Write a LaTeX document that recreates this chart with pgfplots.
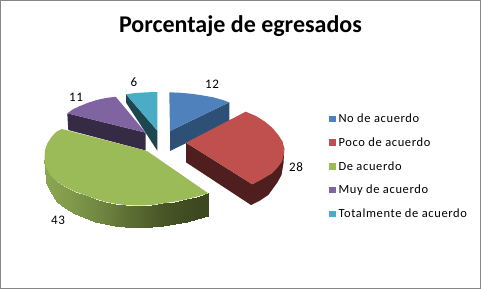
\documentclass[border=0pt]{standalone}
\usepackage{pgfplots}
\pgfplotsset{compat=1.18}
\usepackage{fontspec}
\setmainfont{Carlito}
\newfontfamily\lgfont[LetterSpace=5]{Carlito}
\definecolor{cblue}{HTML}{4F81BD}
\definecolor{cred}{HTML}{C0504D}
\definecolor{cgreen}{HTML}{9BBB59}
\definecolor{cpurple}{HTML}{8064A2}
\definecolor{cteal}{HTML}{4BACC6}
\definecolor{wblue}{HTML}{2F5076}
\definecolor{wred}{HTML}{4F1F1F}
\definecolor{wpurple}{HTML}{352B45}
\definecolor{wteal}{HTML}{1D4650}
\pgfplotstableread{
x y c
44.5 160 0.00
46 167 0.02
46 181.7 0.02
44.8 168 0.00
46 167 0.02
50 175 0.04
50 191 0.04
46 181.7 0.02
50 175 0.04
57 181.5 0.08
57 201.5 0.08
50 191 0.04
57 181.5 0.08
65 186.7 0.12
65 208.3 0.12
57 201.5 0.08
65 186.7 0.12
75 191.5 0.18
75 214 0.18
65 208.3 0.12
75 191.5 0.18
85 195 0.25
85 218.3 0.25
75 214 0.18
85 195 0.25
95 198.6 0.32
95 221.5 0.32
85 218.3 0.25
95 198.6 0.32
105 201.7 0.40
105 224 0.40
95 221.5 0.32
105 201.7 0.40
115 203.7 0.48
115 225.8 0.48
105 224 0.40
115 203.7 0.48
125 205 0.57
125 227 0.57
115 225.8 0.48
125 205 0.57
140 205.5 0.68
140 227.5 0.68
125 227 0.57
140 205.5 0.68
152 205 0.78
152 227.3 0.78
140 227.5 0.68
152 205 0.78
163.3 203.3 0.86
163.3 226 0.86
152 227.3 0.78
163.3 203.3 0.86
175 201.5 0.92
175 224.3 0.92
163.3 226 0.86
175 201.5 0.92
186.7 199.3 0.96
186.7 221.7 0.96
175 224.3 0.92
186.7 199.3 0.96
197 196.5 1.00
197 219 1.00
186.7 221.7 0.96
197 196.5 1.00
208.3 193.3 1.00
207.5 216 1.00
197 219 1.00
}\greenwall
\begin{document}
\begin{tikzpicture}
\begin{axis}[
  scale only axis, width=481pt, height=289pt,
  xmin=0, xmax=481, ymin=0, ymax=289, y dir=reverse,
  hide axis, clip=false,
  colormap={olive}{rgb255(0cm)=(140,168,82); rgb255(1cm)=(61,72,32)},
  point meta min=0, point meta max=1,
  legend style={at={(axis cs:329,113.7)},anchor=north west,draw=none,fill=none,
    font=\fontsize{12.5}{13}\lgfont,row sep=13.55pt,inner xsep=0pt,inner ysep=0pt,
    nodes={inner xsep=2.5pt,inner ysep=0pt}},
  legend cell align=left,
  area legend,
  legend image code/.code={\fill[#1] (0pt,-3.3pt) rectangle (6.8pt,3.3pt);},
  every axis plot/.append style={forget plot},
]
\addlegendimage{fill=cblue,draw=none}\addlegendentry{No de acuerdo}
\addlegendimage{fill=cred,draw=none}\addlegendentry{Poco de acuerdo}
\addlegendimage{fill=cgreen,draw=none}\addlegendentry{De acuerdo}
\addlegendimage{fill=cpurple,draw=none}\addlegendentry{Muy de acuerdo}
\addlegendimage{fill=cteal,draw=none}\addlegendentry{Totalmente de acuerdo}
% frame
\addplot[draw=black!47,line width=1pt,fill=white] coordinates {(0.5,0.5)(480.5,0.5)(480.5,288.5)(0.5,288.5)} -- cycle;
% teal
\addplot[fill=wteal,draw=none] coordinates {(126,94.3)(157.3,130.7)(157.3,150.7)(126,102.5)} -- cycle;
\addplot[fill=cteal,draw=none] coordinates {(126,94.3)(134,93.2)(141.7,92.6)(150,92.2)(157.3,92)(157.3,130.7)} -- cycle;
% purple
\addplot[fill=wpurple,draw=none] coordinates {(67.3,113.3)(145.7,132.7)(145.7,150.5)(68.3,130)} -- cycle;
\addplot[fill=cpurple,draw=none] coordinates {(67.3,113.3)(73,109.3)(80,106)(88,102.8)(96.7,100)(106,98)(115.7,96.7)(145.7,132.7)} -- cycle;
% blue
\addplot[fill=wblue,draw=none] coordinates {(170,131)(229.3,102.3)(229.3,122)(170,151)} -- cycle;
\addplot[fill=cblue,draw=none] coordinates {(169.3,92.3)(181,92.8)(193.3,94)(203,95.5)(213.3,97.3)(222,99.8)(229.3,102.3)(170,131)} -- cycle;
% red
\addplot[fill=wred,draw=none] coordinates {(186,142.7)(252.3,184.3)(271.7,173.3)(281.7,161.7)(284.3,148.3)(283.5,163)(281.5,175)(277,183)(268.3,195)(260,200.5)(251,205)(186,162.3)} -- cycle;
\addplot[fill=cred,draw=none] coordinates {(186,142.7)(245.7,111.7)(256,116)(265,121.7)(272.5,128)(278.3,135)(282.5,141.5)(284.3,148.3)(283.8,155)(281.7,161.7)(277.5,167.5)(271.7,173.3)(262.5,179)(252.3,184.3)} -- cycle;
% green wall
\addplot[patch,patch type=rectangle,shader=interp,point meta=explicit] table[x=x,y=y,meta=c] {\greenwall};
% green top
\addplot[fill=cgreen,draw=none] coordinates {(61.7,129)(147,151)(208.3,193.3)(197,196.5)(186.7,199.3)(175,201.5)(163.3,203.3)(152,205)(140,205.5)(125,205)(115,203.7)(105,201.7)(95,198.6)(85,195)(75,191.5)(65,186.7)(57,181.5)(50,175)(46,167)(44.5,160)(45,150)(47.5,143)(51.7,136.7)(56,132)} -- cycle;
% labels
\node[font=\fontsize{13}{14}\lgfont] at (axis cs:212,84.5) {12};
\node[font=\fontsize{13}{14}\lgfont] at (axis cs:296,167) {28};
\node[font=\fontsize{13}{14}\lgfont] at (axis cs:58,220) {43};
\node[font=\fontsize{13}{14}\lgfont] at (axis cs:76,97) {11};
\node[font=\fontsize{13}{14}\lgfont] at (axis cs:134,82) {6};
\node[font=\fontsize{24}{28}\selectfont\bfseries] at (axis cs:240.5,26) {Porcentaje de egresados};
\end{axis}
\end{tikzpicture}
\end{document}
